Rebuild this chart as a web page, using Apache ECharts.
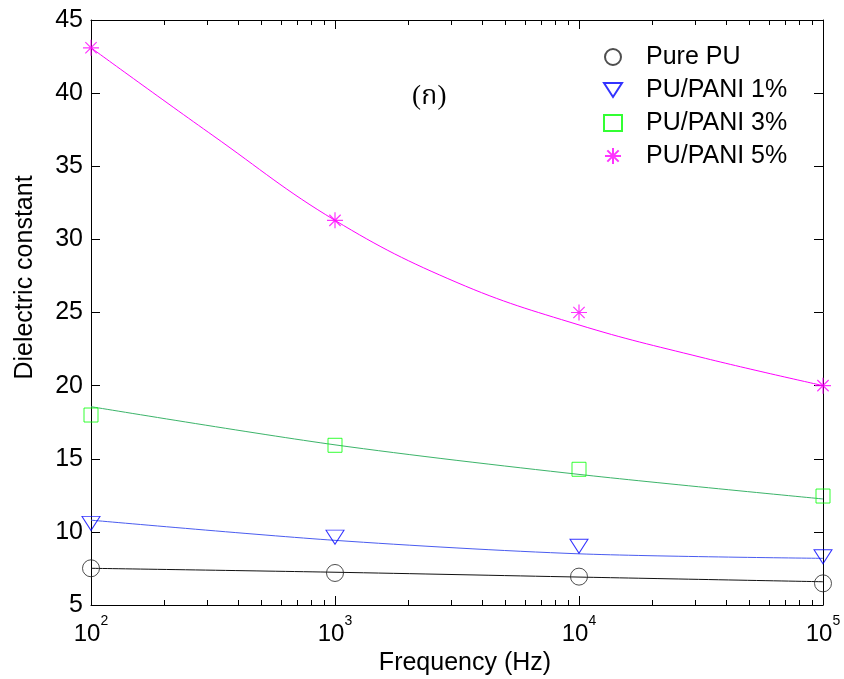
<!DOCTYPE html>
<html>
<head>
<meta charset="utf-8">
<script src="https://cdn.jsdelivr.net/npm/echarts@6/dist/echarts.min.js"></script>
<style>html,body{margin:0;padding:0;background:#fff;}#c{width:844px;height:679px;}</style>
</head>
<body>
<div id="c"></div>
<script>
// ---- data ----
const freq = [100, 1000, 10000, 100000];
const seriesNames = ['Pure PU', 'PU/PANI 1%', 'PU/PANI 3%', 'PU/PANI 5%'];
// measured points (markers)
const purePU   = [7.51, 7.19, 6.94, 6.48];
const pani1    = [10.58, 9.64, 9.02, 8.30];
const pani3    = [17.99, 15.92, 14.28, 12.45];
const pani5    = [43.1, 31.3, 25.0, 20.0];
// fitted curves
const fitFreqDecade = [100, 1000, 10000, 100000];
const fitPurePU = [7.51, 7.24, 6.91, 6.59];
const fitPani1  = [10.80, 9.42, 8.50, 8.19];
const fitPani3  = [18.56, 15.95, 13.93, 12.25];
const fitFreq5  = [100, 316, 1000, 3162, 10000, 31623, 100000];
const fitPani5  = [43.1, 37.1, 31.3, 27.05, 24.15, 21.94, 20.0];
// axis ticks
const xMajor = [100, 1000, 10000, 100000];
const xMinor = [200,300,400,500,600,700,800,900,2000,3000,4000,5000,6000,7000,8000,9000,20000,30000,40000,50000,60000,70000,80000,90000];

const FONT = "'Liberation Sans', Arial, sans-serif";
const pairs = (xs, ys) => xs.map((x, i) => [x, ys[i]]);
const starPath = 'path://M0,-8L0,8M-8,0L8,0M-5.66,-5.66L5.66,5.66M-5.66,5.66L5.66,-5.66';
const triDownPath = 'path://M0,0L18,0L9,14Z';

const axisLine = {show: true, lineStyle: {color: '#000', width: 1}};
function xAx(pos, ticks, len, opts) {
  return Object.assign({
    type: 'log', logBase: 10, min: 100, max: 100000, position: pos,
    axisLine: axisLine,
    axisTick: {show: true, inside: true, length: len, customValues: ticks, lineStyle: {color: '#000'}},
    axisLabel: {show: false},
    splitLine: {show: false}, minorTick: {show: false}
  }, opts || {});
}

const chart = echarts.init(document.getElementById('c'), null, {renderer: 'canvas'});
chart.setOption({
  animation: false,
  backgroundColor: '#fff',
  grid: {left: 91, right: 21, top: 20, bottom: 74, containLabel: false, outerBoundsMode: 'none'},
  xAxis: [
    xAx('bottom', xMajor, 9, {
      axisLabel: {
        show: true, customValues: xMajor, margin: 5,
        formatter: v => '{b|10}{s|' + Math.round(Math.log10(v)) + '}',
        rich: {
          b: {fontSize: 24, fontFamily: FONT, color: '#000', verticalAlign: 'bottom', lineHeight: 36},
          s: {fontSize: 14, fontFamily: FONT, color: '#000', verticalAlign: 'top', lineHeight: 14, padding: [4, 0, 0, 0]}
        }
      },
      name: 'Frequency (Hz)', nameLocation: 'middle', nameGap: 42,
      nameTextStyle: {fontSize: 25, fontFamily: FONT, color: '#000', padding: [0, 0, 0, 16]}
    }),
    xAx('bottom', xMinor, 5, {axisLine: {show: false}}),
    xAx('top', xMajor, 9),
    xAx('top', xMinor, 5, {axisLine: {show: false}})
  ],
  yAxis: [
    {type: 'value', min: 5, max: 45, interval: 5, position: 'left',
     axisLine: axisLine,
     axisTick: {show: true, inside: true, length: 9, lineStyle: {color: '#000'}},
     axisLabel: {fontSize: 25, fontFamily: FONT, color: '#000', margin: 8},
     splitLine: {show: false},
     name: 'Dielectric constant', nameLocation: 'middle', nameGap: 53,
     nameTextStyle: {fontSize: 25, fontFamily: FONT, color: '#000', padding: [0, 0, 0, 70]}},
    {type: 'value', min: 5, max: 45, interval: 5, position: 'right',
     axisLine: axisLine,
     axisTick: {show: true, inside: true, length: 9, lineStyle: {color: '#000'}},
     axisLabel: {show: false}, splitLine: {show: false}}
  ],
  legend: {
    orient: 'vertical', left: 603, top: 44, padding: 0,
    itemWidth: 18, itemHeight: 16, itemGap: 7,
    data: seriesNames,
    textStyle: {fontSize: 25, lineHeight: 26, fontFamily: FONT, color: '#000', padding: [0, 0, 0, 19]}
  },
  graphic: [{
    type: 'text', left: 412, top: 83,
    style: {text: '(ก)', fontSize: 27, fontFamily: "'Liberation Serif', 'Noto Serif Thai', 'Noto Sans Thai', serif", fill: '#000'}
  }],
  series: [
    {name: 'Pure PU fit', type: 'line', data: pairs(fitFreqDecade, fitPurePU), smooth: 0.3, symbol: 'none',
     lineStyle: {color: '#111', width: 1}, z: 2, silent: true},
    {name: 'PU/PANI 1% fit', type: 'line', data: pairs(fitFreqDecade, fitPani1), smooth: 0.3, symbol: 'none',
     lineStyle: {color: '#4a5cf0', width: 1}, z: 2, silent: true},
    {name: 'PU/PANI 3% fit', type: 'line', data: pairs(fitFreqDecade, fitPani3), smooth: 0.3, symbol: 'none',
     lineStyle: {color: '#3cb46a', width: 1}, z: 2, silent: true},
    {name: 'PU/PANI 5% fit', type: 'line', data: pairs(fitFreq5, fitPani5), smooth: 0.4, symbol: 'none',
     lineStyle: {color: '#ff00ff', width: 1}, z: 2, silent: true},
    {name: 'Pure PU', type: 'scatter', data: pairs(freq, purePU), symbol: 'circle', symbolSize: 17,
     itemStyle: {color: 'rgba(0,0,0,0)', borderColor: '#222', borderWidth: 1}, z: 5},
    {name: 'PU/PANI 1%', type: 'scatter', data: pairs(freq, pani1), symbol: triDownPath, symbolSize: [18, 14],
     itemStyle: {color: 'rgba(0,0,0,0)', borderColor: '#0000ff', borderWidth: 1}, z: 5},
    {name: 'PU/PANI 3%', type: 'scatter', data: pairs(freq, pani3), symbol: 'rect', symbolSize: 14,
     itemStyle: {color: 'rgba(0,0,0,0)', borderColor: '#00ff00', borderWidth: 1}, z: 5},
    {name: 'PU/PANI 5%', type: 'scatter', data: pairs(freq, pani5), symbol: starPath, symbolSize: 16,
     itemStyle: {color: 'rgba(0,0,0,0)', borderColor: '#ff00ff', borderWidth: 1.2}, z: 5}
  ]
});
</script>
</body>
</html>
